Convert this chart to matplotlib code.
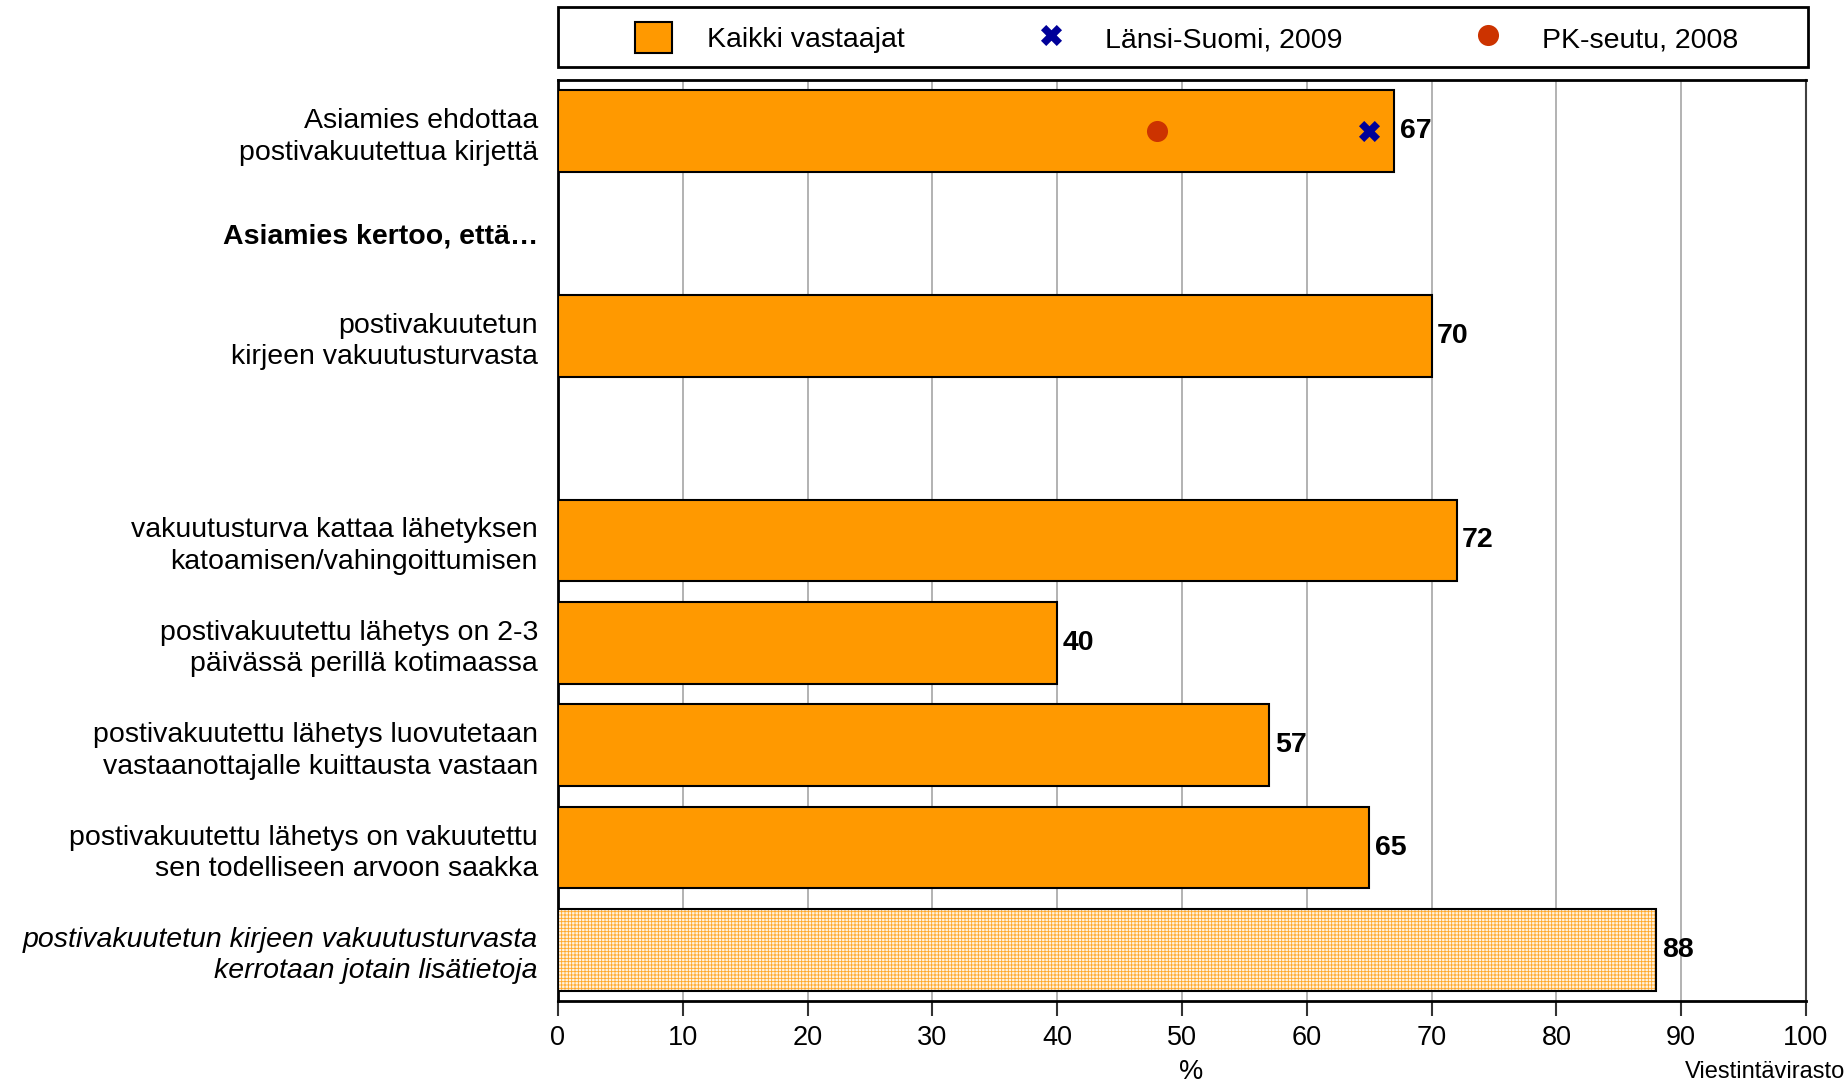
import matplotlib.pyplot as plt
from matplotlib.patches import Rectangle

plt.rcParams['font.family'] = ['Liberation Sans', 'DejaVu Sans']
plt.rcParams['hatch.linewidth'] = 0.6

# Row labels from top to bottom (row 1 is a sub-heading, row 3 is a spacer)
categories = [
    "Asiamies ehdottaa\npostivakuutettua kirjettä",
    "Asiamies kertoo, että…",
    "postivakuutetun\nkirjeen vakuutusturvasta",
    "",
    "vakuutusturva kattaa lähetyksen\nkatoamisen/vahingoittumisen",
    "postivakuutettu lähetys on 2-3\npäivässä perillä kotimaassa",
    "postivakuutettu lähetys luovutetaan\nvastaanottajalle kuittausta vastaan",
    "postivakuutettu lähetys on vakuutettu\nsen todelliseen arvoon saakka",
    "postivakuutetun kirjeen vakuutusturvasta\nkerrotaan jotain lisätietoja",
]

# All respondents (%)
bar_rows = [0, 2, 4, 5, 6, 7]
bar_values = [67, 70, 72, 40, 57, 65]
extra_rows = [8]
extra_values = [88]

# Comparison surveys, first row only
lansi_rows = [0]
lansi_values = [65]
pk_rows = [0]
pk_values = [48]

xticks = list(range(0, 101, 10))

fig = plt.figure(figsize=(18.47, 10.85), dpi=100)
ax = fig.add_axes([0.3021, 0.0774, 0.6757, 0.8489])

bars = ax.barh(bar_rows, bar_values, height=0.8, color='#FF9900',
               edgecolor='black', linewidth=1.5, zorder=3,
               label='Kaikki vastaajat')
ax.bar_label(bars, padding=4, fontsize=20.5, fontweight='bold')

# dotted bar: hatch fill first, then a plain black outline on top
ax.barh(extra_rows, extra_values, height=0.8, color='#FFF4E2',
        edgecolor='#FFA829', hatch='+++++', linewidth=0, zorder=3)
outline = ax.barh(extra_rows, extra_values, height=0.8, fill=False,
                  edgecolor='black', linewidth=1.5, zorder=4)
ax.bar_label(outline, padding=4, fontsize=20.5, fontweight='bold')

cross = ax.scatter(lansi_values, lansi_rows, marker='X', s=230,
                   color='#000099', linewidths=0, zorder=5,
                   label='Länsi-Suomi, 2009')
dot = ax.scatter(pk_values, pk_rows, marker='o', s=230,
                 color='#CC3300', linewidths=0, zorder=5,
                 label='PK-seutu, 2008')

ax.set_xlim(0, 100)
ax.set_ylim(8.5, -0.5)
ax.set_xticks(xticks)
ax.set_yticks(range(len(categories)), categories, fontsize=20.5,
              linespacing=1.28)
ylabels = ax.get_yticklabels()
ylabels[1].set_fontweight('bold')
ylabels[8].set_fontstyle('italic')

ax.tick_params(axis='y', length=0, pad=14.4)
ax.tick_params(axis='x', length=11, width=1.5, color='#333333',
               labelsize=19.5, pad=6)
ax.grid(axis='x', color='#A6A6A6', linewidth=1.2)
ax.set_axisbelow(True)

for side in ['left', 'top', 'bottom']:
    ax.spines[side].set_linewidth(2)
    ax.spines[side].set_color('black')
ax.spines['right'].set_linewidth(1.5)
ax.spines['right'].set_color('#404040')

# legend strip above the plot area
ax.add_patch(Rectangle((0, 1.0141), 1.0016, 0.0652, transform=ax.transAxes,
                       fill=False, edgecolor='black', linewidth=2,
                       clip_on=False))
ax.legend(handles=[bars, cross, dot], loc='center',
          bbox_to_anchor=(0.5035, 1.0460), ncol=3, frameon=False,
          fontsize=20.5, handlelength=1.33, handleheight=1.3,
          handletextpad=1.23, columnspacing=4.45, borderpad=0,
          borderaxespad=0, scatterpoints=1)

fig.text(0.645, 0.012, '%', fontsize=19.5, ha='center', va='center')
fig.text(0.9992, 0.012, 'Viestintävirasto', fontsize=17, ha='right',
         va='center')

fig.savefig('out.png', dpi=100)
